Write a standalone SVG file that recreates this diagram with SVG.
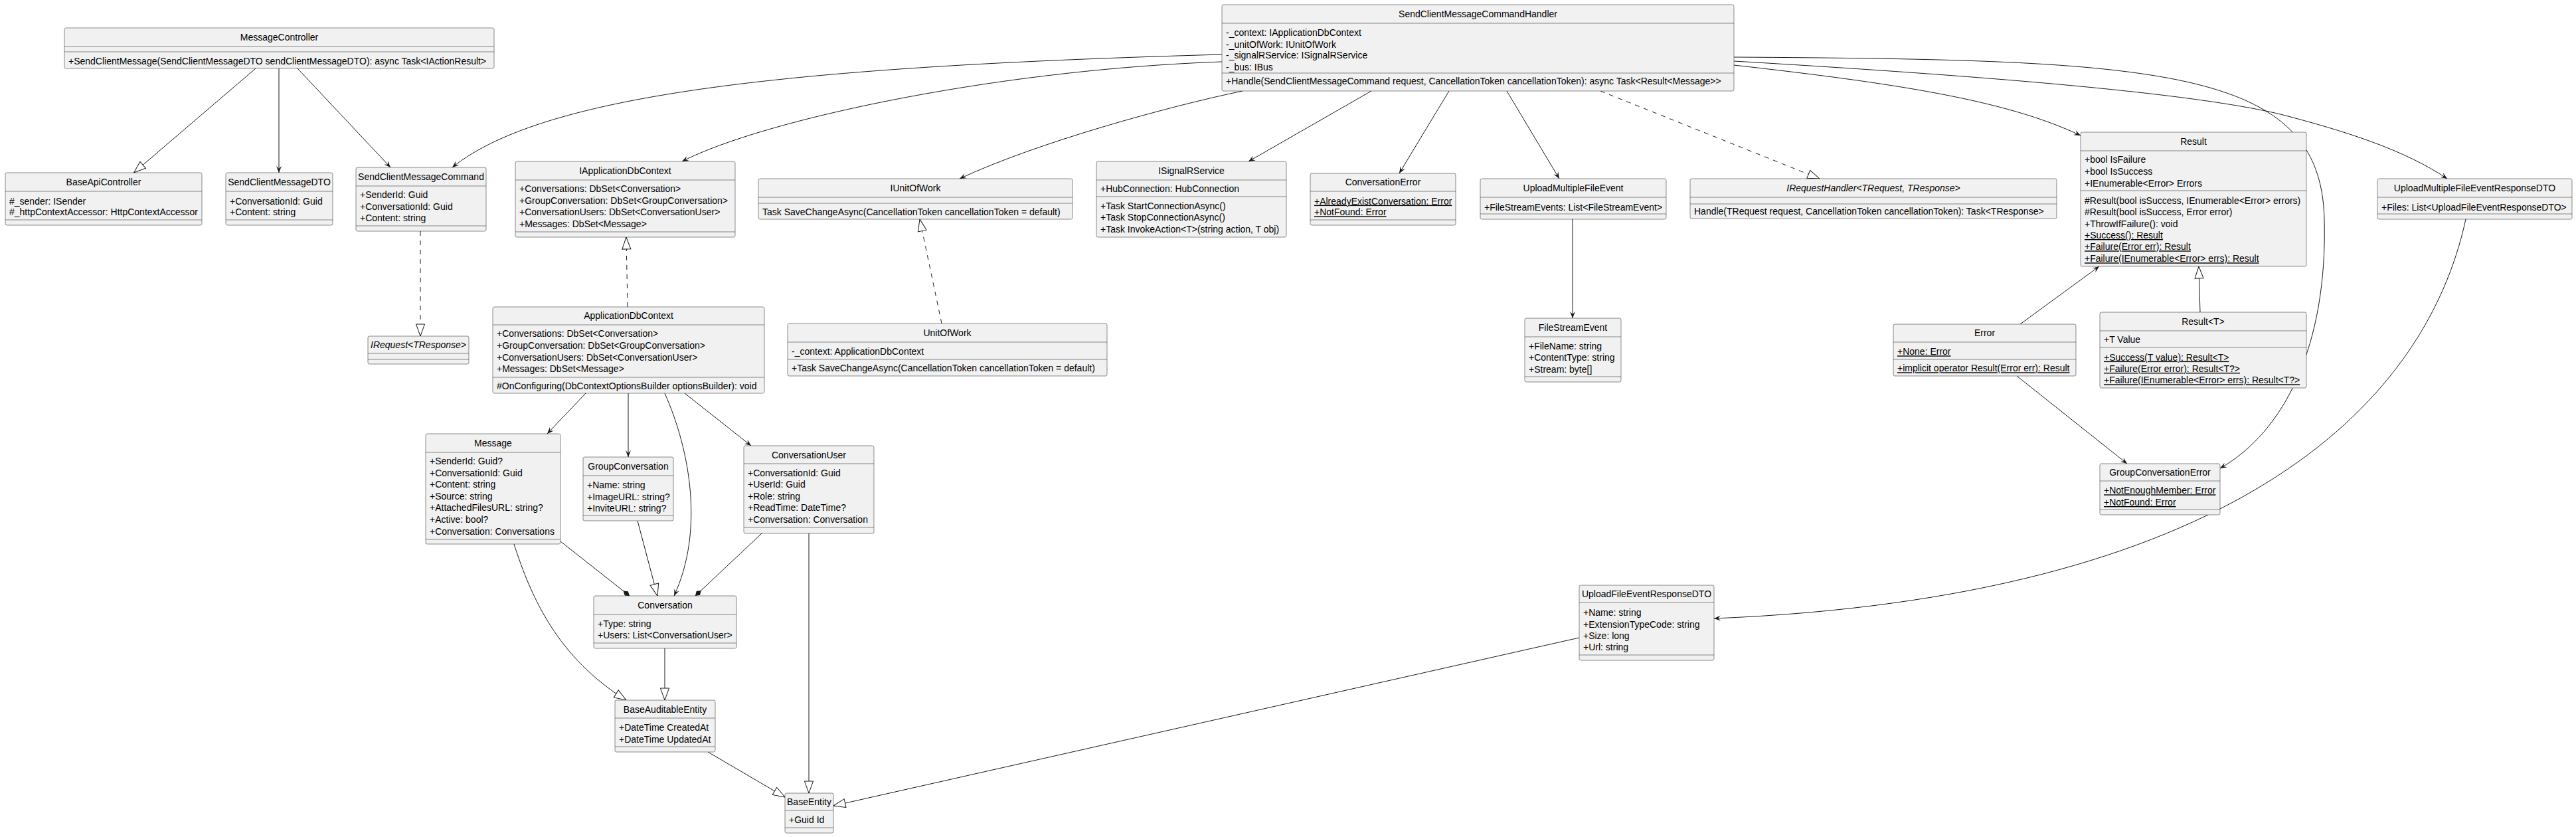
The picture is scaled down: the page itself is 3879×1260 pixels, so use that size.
<svg xmlns="http://www.w3.org/2000/svg" width="3879" height="1260" viewBox="0 0 3879 1260">
<style>
.b{fill:#F1F1F1;stroke:#181818;stroke-width:0.5}
.s{fill:none;stroke:#181818;stroke-width:0.5}
.t{font-family:"Liberation Sans",Arial,sans-serif;font-size:14px;fill:#000}
.c{text-anchor:middle}
.u{text-decoration:underline}
.i{font-style:italic}
.e{fill:none;stroke:#181818;stroke-width:1}
.d{stroke-dasharray:7,7}
.a{marker-end:url(#arr)}
.g{marker-end:url(#tri)}
.k{marker-end:url(#dia)}
</style>
<defs>
<marker id="arr" viewBox="-12 -6 14 12" refX="0" refY="0" markerWidth="14" markerHeight="12" markerUnits="userSpaceOnUse" orient="auto"><path d="M0,0 L-10,-4 L-6,0 L-10,4 Z" fill="#181818"/></marker>
<marker id="tri" viewBox="-20 -8 22 16" refX="0" refY="0" markerWidth="22" markerHeight="16" markerUnits="userSpaceOnUse" orient="auto"><path d="M0,0 L-18,-6.5 L-18,6.5 Z" fill="#fff" stroke="#181818" stroke-width="1"/></marker>
<marker id="dia" viewBox="-14 -6 16 12" refX="0" refY="0" markerWidth="16" markerHeight="12" markerUnits="userSpaceOnUse" orient="auto"><path d="M0,0 L-6,-4 L-12,0 L-6,4 Z" fill="#181818"/></marker>
</defs>
<rect x="0" y="0" width="3879" height="1260" fill="#fff"/>
<g id="connectors">
<path class="e g" d="M385,103 L201.5,260"/>
<path class="e a" d="M420,103 L420,260"/>
<path class="e a" d="M448,103 L588,252"/>
<path class="e a" d="M1840,82 C1200,100 820,140 681,252"/>
<path class="e a" d="M1840,93 C1500,105 1150,180 1027,243"/>
<path class="e a" d="M1871,137 C1760,160 1560,215 1445,269"/>
<path class="e a" d="M2065,137 L1880,243"/>
<path class="e a" d="M2182,137 L2107,261"/>
<path class="e a" d="M2269,137 L2348,269"/>
<path class="e d g" d="M2410,137 L2740,269"/>
<path class="e a" d="M2611,98 C2850,125 3020,150 3133,204"/>
<path class="e a" d="M2611,86 C3250,90 3495,100 3500,330 C3505,520 3440,650 3343,705"/>
<path class="e a" d="M2611,92 C3000,115 3300,140 3434,172 C3530,197 3620,225 3685,269"/>
<path class="e d g" d="M633,348 L633,506"/>
<path class="e d g" d="M945,462 L943,357"/>
<path class="e d g" d="M1418,487 L1385,330"/>
<path class="e a" d="M2368,330 L2368,479"/>
<path class="e a" d="M882,592 L824,653"/>
<path class="e a" d="M946,592 L946,688"/>
<path class="e a" d="M1001,592 C1040,680 1060,800 1015,897"/>
<path class="e a" d="M1031,592 L1131,671"/>
<path class="e g" d="M774,819 C800,900 840,990 943,1054"/>
<path class="e k" d="M844,815 L948,897"/>
<path class="e g" d="M960,784 L990,897"/>
<path class="e k" d="M1147,803 L1047,897"/>
<path class="e g" d="M1218,803 L1218,1194"/>
<path class="e g" d="M1001,976 L1001,1054"/>
<path class="e g" d="M1066,1132 L1182,1200"/>
<path class="e g" d="M2378,960 L1255,1213"/>
<path class="e a" d="M3713,330 C3650,620 3350,900 2581,931"/>
<path class="e g" d="M3313,470 L3311,401"/>
<path class="e a" d="M3042,488 L3161,401"/>
<path class="e a" d="M3037,566 L3203,698"/>
</g>

<g id="MessageController"><rect class="b" x="97" y="42" width="647" height="61" rx="2.5"/><path class="s" d="M97,70H744M97,78H744"/>
<text class="t c" x="420.5" y="61">MessageController</text>
<text class="t" x="103" y="96.5">+SendClientMessage(SendClientMessageDTO sendClientMessageDTO): async Task&lt;IActionResult&gt;</text></g>

<g id="BaseApiController"><rect class="b" x="8" y="260" width="296" height="79" rx="2.5"/><path class="s" d="M8,288H304M8,331H304"/>
<text class="t c" x="156" y="279">BaseApiController</text>
<text class="t" x="14" y="307.7">#_sender: ISender</text>
<text class="t" x="14" y="324.3">#_httpContextAccessor: HttpContextAccessor</text></g>

<g id="SendClientMessageDTO"><rect class="b" x="340" y="260" width="161" height="79" rx="2.5"/><path class="s" d="M340,288H501M340,331H501"/>
<text class="t c" x="420.5" y="279">SendClientMessageDTO</text>
<text class="t" x="346" y="307.7">+ConversationId: Guid</text>
<text class="t" x="346" y="324.3">+Content: string</text></g>

<g id="SendClientMessageCommand"><rect class="b" x="536" y="252" width="196" height="96" rx="2.5"/><path class="s" d="M536,280H732M536,340H732"/>
<text class="t c" x="634" y="271">SendClientMessageCommand</text>
<text class="t" x="542" y="298">+SenderId: Guid</text>
<text class="t" x="542" y="316">+ConversationId: Guid</text>
<text class="t" x="542" y="333">+Content: string</text></g>

<g id="IRequest"><rect class="b" x="554" y="506" width="152" height="42" rx="2.5"/><path class="s" d="M554,532H706M554,541H706"/>
<text class="t c i" x="630" y="524">IRequest&lt;TResponse&gt;</text></g>

<g id="IApplicationDbContext"><rect class="b" x="776" y="243" width="331" height="114" rx="2.5"/><path class="s" d="M776,271H1107M776,349H1107"/>
<text class="t c" x="941.5" y="262">IApplicationDbContext</text>
<text class="t" x="782" y="289">+Conversations: DbSet&lt;Conversation&gt;</text>
<text class="t" x="782" y="307">+GroupConversation: DbSet&lt;GroupConversation&gt;</text>
<text class="t" x="782" y="324">+ConversationUsers: DbSet&lt;ConversationUser&gt;</text>
<text class="t" x="782" y="342">+Messages: DbSet&lt;Message&gt;</text></g>

<g id="ApplicationDbContext"><rect class="b" x="742" y="462" width="409" height="130" rx="2.5"/><path class="s" d="M742,489H1151M742,568H1151"/>
<text class="t c" x="946.5" y="480">ApplicationDbContext</text>
<text class="t" x="748" y="507">+Conversations: DbSet&lt;Conversation&gt;</text>
<text class="t" x="748" y="525">+GroupConversation: DbSet&lt;GroupConversation&gt;</text>
<text class="t" x="748" y="543">+ConversationUsers: DbSet&lt;ConversationUser&gt;</text>
<text class="t" x="748" y="560">+Messages: DbSet&lt;Message&gt;</text>
<text class="t" x="748" y="586">#OnConfiguring(DbContextOptionsBuilder optionsBuilder): void</text></g>

<g id="IUnitOfWork"><rect class="b" x="1142" y="269" width="473" height="61" rx="2.5"/><path class="s" d="M1142,297H1615M1142,306H1615"/>
<text class="t c" x="1378.5" y="288">IUnitOfWork</text>
<text class="t" x="1148" y="324">Task SaveChangeAsync(CancellationToken cancellationToken = default)</text></g>

<g id="UnitOfWork"><rect class="b" x="1186" y="487" width="481" height="79" rx="2.5"/><path class="s" d="M1186,515H1667M1186,541H1667"/>
<text class="t c" x="1426.5" y="506">UnitOfWork</text>
<text class="t" x="1192" y="534">-_context: ApplicationDbContext</text>
<text class="t" x="1192" y="559">+Task SaveChangeAsync(CancellationToken cancellationToken = default)</text></g>

<g id="ISignalRService"><rect class="b" x="1651" y="243" width="286" height="114" rx="2.5"/><path class="s" d="M1651,271H1937M1651,296H1937"/>
<text class="t c" x="1794" y="262">ISignalRService</text>
<text class="t" x="1657" y="289">+HubConnection: HubConnection</text>
<text class="t" x="1657" y="315">+Task StartConnectionAsync()</text>
<text class="t" x="1657" y="332">+Task StopConnectionAsync()</text>
<text class="t" x="1657" y="350">+Task InvokeAction&lt;T&gt;(string action, T obj)</text></g>

<g id="ConversationError"><rect class="b" x="1973" y="261" width="219" height="78" rx="2.5"/><path class="s" d="M1973,288H2192M1973,331H2192"/>
<text class="t c" x="2082.5" y="279">ConversationError</text>
<text class="t u" x="1979" y="307.7">+AlreadyExistConversation: Error</text>
<text class="t u" x="1979" y="324.3">+NotFound: Error</text></g>

<g id="UploadMultipleFileEvent"><rect class="b" x="2229" y="269" width="280" height="61" rx="2.5"/><path class="s" d="M2229,297H2509M2229,322H2509"/>
<text class="t c" x="2369" y="288">UploadMultipleFileEvent</text>
<text class="t" x="2235" y="316.7">+FileStreamEvents: List&lt;FileStreamEvent&gt;</text></g>

<g id="FileStreamEvent"><rect class="b" x="2296" y="479" width="145" height="96" rx="2.5"/><path class="s" d="M2296,507H2441M2296,567H2441"/>
<text class="t c" x="2368.5" y="498">FileStreamEvent</text>
<text class="t" x="2302" y="525.7">+FileName: string</text>
<text class="t" x="2302" y="543.3">+ContentType: string</text>
<text class="t" x="2302" y="561">+Stream: byte[]</text></g>

<g id="IRequestHandler"><rect class="b" x="2545" y="269" width="552" height="60" rx="2.5"/><path class="s" d="M2545,297H3097M2545,307H3097"/>
<text class="t c i" x="2821" y="288">IRequestHandler&lt;TRequest, TResponse&gt;</text>
<text class="t" x="2551" y="322.7">Handle(TRequest request, CancellationToken cancellationToken): Task&lt;TResponse&gt;</text></g>

<g id="SendClientMessageCommandHandler"><rect class="b" x="1840" y="7" width="771" height="130" rx="2.5"/><path class="s" d="M1840,35H2611M1840,110H2611"/>
<text class="t c" x="2225.5" y="26">SendClientMessageCommandHandler</text>
<text class="t" x="1846" y="54.3">-_context: IApplicationDbContext</text>
<text class="t" x="1846" y="71.7">-_unitOfWork: IUnitOfWork</text>
<text class="t" x="1846" y="88.3">-_signalRService: ISignalRService</text>
<text class="t" x="1846" y="106">-_bus: IBus</text>
<text class="t" x="1846" y="126.7">+Handle(SendClientMessageCommand request, CancellationToken cancellationToken): async Task&lt;Result&lt;Message&gt;&gt;</text></g>

<g id="Result"><rect class="b" x="3133" y="199" width="340" height="202" rx="2.5"/><path class="s" d="M3133,227H3473M3133,287H3473"/>
<text class="t c" x="3303" y="218">Result</text>
<text class="t" x="3139" y="245.3">+bool IsFailure</text>
<text class="t" x="3139" y="263.3">+bool IsSuccess</text>
<text class="t" x="3139" y="280.7">+IEnumerable&lt;Error&gt; Errors</text>
<text class="t" x="3139" y="306.7">#Result(bool isSuccess, IEnumerable&lt;Error&gt; errors)</text>
<text class="t" x="3139" y="324.3">#Result(bool isSuccess, Error error)</text>
<text class="t" x="3139" y="341.7">+ThrowIfFailure(): void</text>
<text class="t u" x="3139" y="359">+Success(): Result</text>
<text class="t u" x="3139" y="376.3">+Failure(Error err): Result</text>
<text class="t u" x="3139" y="394.3">+Failure(IEnumerable&lt;Error&gt; errs): Result</text></g>

<g id="ResultT"><rect class="b" x="3162" y="470" width="311" height="114" rx="2.5"/><path class="s" d="M3162,498H3473M3162,523H3473"/>
<text class="t c" x="3317.5" y="489">Result&lt;T&gt;</text>
<text class="t" x="3168" y="516">+T Value</text>
<text class="t u" x="3168" y="542.7">+Success(T value): Result&lt;T&gt;</text>
<text class="t u" x="3168" y="560">+Failure(Error error): Result&lt;T?&gt;</text>
<text class="t u" x="3168" y="577.3">+Failure(IEnumerable&lt;Error&gt; errs): Result&lt;T?&gt;</text></g>

<g id="Error"><rect class="b" x="2851" y="488" width="275" height="78" rx="2.5"/><path class="s" d="M2851,515H3126M2851,541H3126"/>
<text class="t c" x="2988.5" y="506">Error</text>
<text class="t u" x="2857" y="534.3">+None: Error</text>
<text class="t u" x="2857" y="559.3">+implicit operator Result(Error err): Result</text></g>

<g id="GroupConversationError"><rect class="b" x="3162" y="698" width="181" height="77" rx="2.5"/><path class="s" d="M3162,724H3343M3162,767H3343"/>
<text class="t c" x="3252.5" y="716">GroupConversationError</text>
<text class="t u" x="3168" y="743.3">+NotEnoughMember: Error</text>
<text class="t u" x="3168" y="761">+NotFound: Error</text></g>

<g id="UploadMultipleFileEventResponseDTO"><rect class="b" x="3580" y="269" width="293" height="61" rx="2.5"/><path class="s" d="M3580,297H3873M3580,322H3873"/>
<text class="t c" x="3726.5" y="288">UploadMultipleFileEventResponseDTO</text>
<text class="t" x="3586" y="316.7">+Files: List&lt;UploadFileEventResponseDTO&gt;</text></g>

<g id="UploadFileEventResponseDTO"><rect class="b" x="2378" y="881" width="203" height="113" rx="2.5"/><path class="s" d="M2378,907H2581M2378,986H2581"/>
<text class="t c" x="2479.5" y="899">UploadFileEventResponseDTO</text>
<text class="t" x="2384" y="926.7">+Name: string</text>
<text class="t" x="2384" y="945">+ExtensionTypeCode: string</text>
<text class="t" x="2384" y="961.7">+Size: long</text>
<text class="t" x="2384" y="979.3">+Url: string</text></g>

<g id="Message"><rect class="b" x="641" y="653" width="203" height="166" rx="2.5"/><path class="s" d="M641,681H844M641,812H844"/>
<text class="t c" x="742.5" y="672">Message</text>
<text class="t" x="647" y="699.3">+SenderId: Guid?</text>
<text class="t" x="647" y="717">+ConversationId: Guid</text>
<text class="t" x="647" y="734.3">+Content: string</text>
<text class="t" x="647" y="752">+Source: string</text>
<text class="t" x="647" y="769.3">+AttachedFilesURL: string?</text>
<text class="t" x="647" y="787">+Active: bool?</text>
<text class="t" x="647" y="805">+Conversation: Conversations</text></g>

<g id="GroupConversation"><rect class="b" x="878" y="688" width="136" height="96" rx="2.5"/><path class="s" d="M878,716H1014M878,776H1014"/>
<text class="t c" x="946" y="707">GroupConversation</text>
<text class="t" x="884" y="735">+Name: string</text>
<text class="t" x="884" y="752.7">+ImageURL: string?</text>
<text class="t" x="884" y="770">+InviteURL: string?</text></g>

<g id="ConversationUser"><rect class="b" x="1120" y="671" width="196" height="132" rx="2.5"/><path class="s" d="M1120,698H1316M1120,794H1316"/>
<text class="t c" x="1218" y="689.5">ConversationUser</text>
<text class="t" x="1126" y="717">+ConversationId: Guid</text>
<text class="t" x="1126" y="734.3">+UserId: Guid</text>
<text class="t" x="1126" y="752">+Role: string</text>
<text class="t" x="1126" y="769.3">+ReadTime: DateTime?</text>
<text class="t" x="1126" y="787">+Conversation: Conversation</text></g>

<g id="Conversation"><rect class="b" x="894" y="897" width="215" height="79" rx="2.5"/><path class="s" d="M894,925H1109M894,968H1109"/>
<text class="t c" x="1001.5" y="916">Conversation</text>
<text class="t" x="900" y="944.3">+Type: string</text>
<text class="t" x="900" y="961">+Users: List&lt;ConversationUser&gt;</text></g>

<g id="BaseAuditableEntity"><rect class="b" x="926" y="1054" width="151" height="78" rx="2.5"/><path class="s" d="M926,1081H1077M926,1124H1077"/>
<text class="t c" x="1001.5" y="1073">BaseAuditableEntity</text>
<text class="t" x="932" y="1100">+DateTime CreatedAt</text>
<text class="t" x="932" y="1117.7">+DateTime UpdatedAt</text></g>

<g id="BaseEntity"><rect class="b" x="1182" y="1194" width="73" height="60" rx="2.5"/><path class="s" d="M1182,1220H1255M1182,1246H1255"/>
<text class="t c" x="1218.5" y="1212">BaseEntity</text>
<text class="t" x="1188" y="1239">+Guid Id</text></g>
</svg>
